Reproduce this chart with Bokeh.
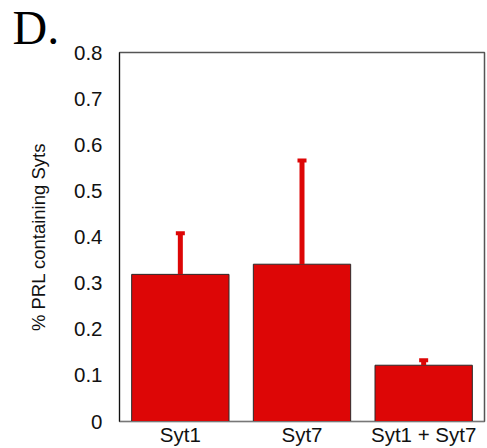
from bokeh.plotting import figure
from bokeh.models import FactorRange, Range1d, ColumnDataSource, Title
from bokeh.embed import file_html
from bokeh.resources import INLINE

categories = ["Syt1", "Syt7", "Syt1 + Syt7"]
means = [0.319, 0.341, 0.122]
err_top = [0.408, 0.566, 0.133]
y_ticks = [0, 0.1, 0.2, 0.3, 0.4, 0.5, 0.6, 0.7, 0.8]
y_tick_labels = ["0", "0.1", "0.2", "0.3", "0.4", "0.5", "0.6", "0.7", "0.8"]

src = ColumnDataSource(dict(cat=categories, mean=means, top=err_top))

p = figure(width=487, height=448, output_backend="svg", toolbar_location=None,
           x_range=FactorRange(*categories, range_padding=0),
           y_range=Range1d(0, 0.8), title=None,
           min_border_left=119, min_border_right=3, min_border_top=0, min_border_bottom=0)

p.add_layout(Title(text="D.", text_font="Liberation Serif", text_font_size="48px",
                   text_font_style="normal", text_color="#000000", align="left",
                   offset=-107, standoff=-3), "above")

RED = "#DD0606"
p.vbar(x="cat", top="mean", bottom=0, width=0.8, source=src,
       fill_color=RED, line_color="#2a2a2a", line_width=1)
p.segment(x0="cat", y0="mean", x1="cat", y1="top", source=src,
          line_color=RED, line_width=5)
p.rect(x="cat", y="top", width=9, height=4, width_units="screen", height_units="screen",
       source=src, fill_color=RED, line_color=None)

p.xgrid.visible = False
p.ygrid.visible = False
p.outline_line_color = "#555555"
p.outline_line_width = 1.5

p.yaxis.ticker = y_ticks
p.yaxis.major_label_overrides = {t: l for t, l in zip(y_ticks, y_tick_labels)}
for ax in (p.xaxis[0], p.yaxis[0]):
    ax.major_tick_line_color = None
    ax.minor_tick_line_color = None
    ax.major_label_text_font = "Liberation Sans"
    ax.major_label_text_font_size = "20.5px"
    ax.major_label_text_color = "#111111"
p.yaxis.axis_line_color = "#111111"
p.xaxis.axis_line_color = "#777777"
p.yaxis.major_label_standoff = 11
p.xaxis.major_label_standoff = -5
p.yaxis.axis_label = "% PRL containing Syts"
p.yaxis.axis_label_text_font = "Liberation Sans"
p.yaxis.axis_label_text_font_style = "normal"
p.yaxis.axis_label_text_font_size = "18.5px"
p.yaxis.axis_label_text_color = "#111111"
p.yaxis.axis_label_standoff = 22

open("out.html", "w").write(file_html(p, INLINE))
